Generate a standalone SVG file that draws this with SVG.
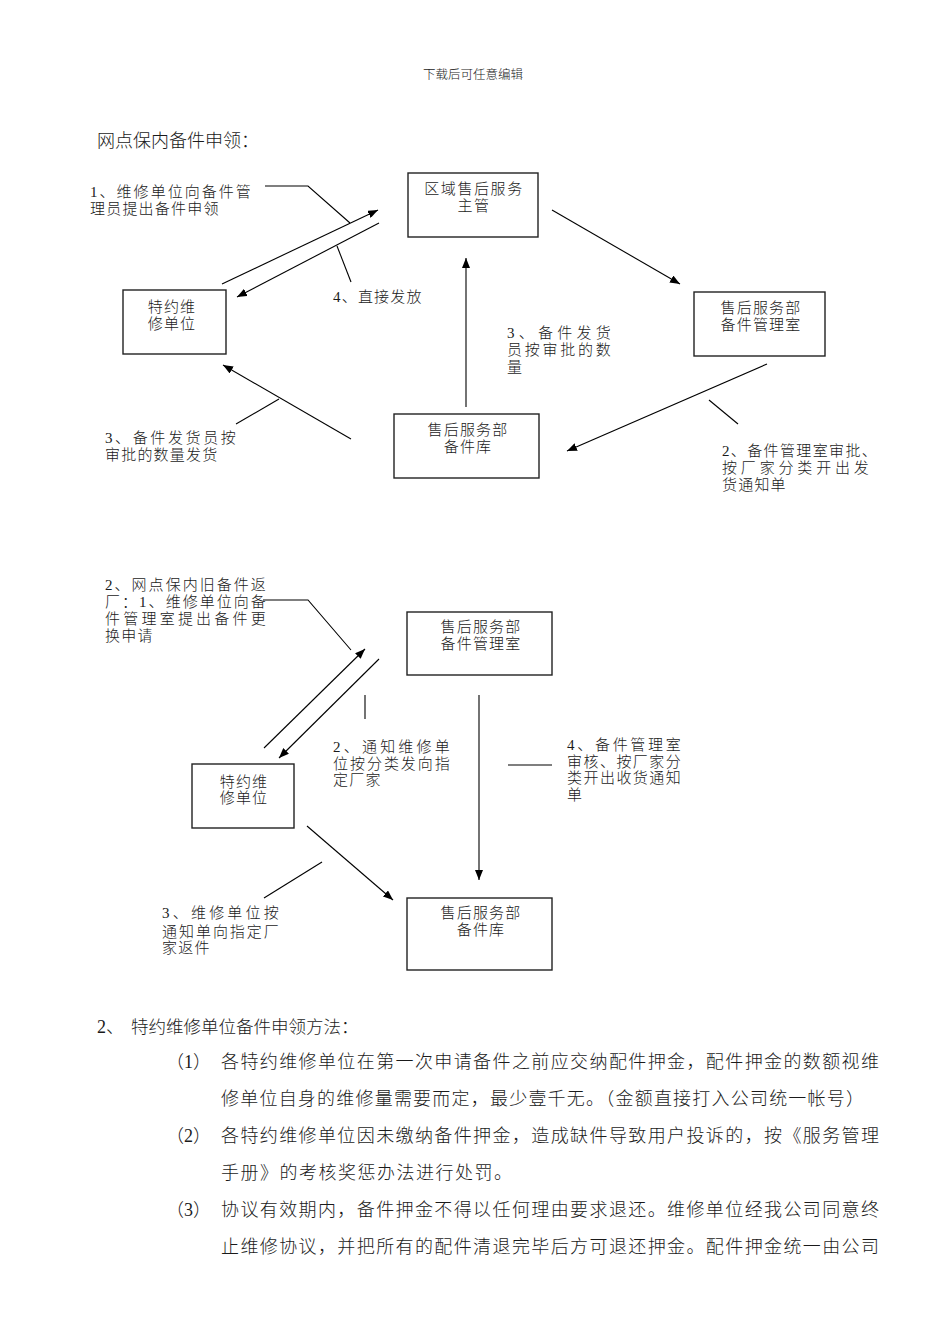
<svg xmlns="http://www.w3.org/2000/svg" width="950" height="1344" viewBox="0 0 950 1344">
<style>
text{font-family:"Liberation Serif","Noto Sans CJK SC",serif;fill:#1a1a1a;font-weight:300}
.d{font-size:15px;letter-spacing:1.2px}
.c{text-anchor:middle}
.box{fill:#fff;stroke:#222;stroke-width:1.4}
.ln{fill:none;stroke:#000;stroke-width:1.1}
.p{font-size:18px}
</style>
<defs>
<marker id="ah" viewBox="0 0 10 8" refX="10" refY="4" markerWidth="10" markerHeight="8" orient="auto" markerUnits="userSpaceOnUse"><path d="M0,0 L10,4 L0,8 z" fill="#000"/></marker>
</defs>
<rect width="950" height="1344" fill="#fff"/>
<text x="473" y="79" font-size="12.5" class="c">下载后可任意编辑</text>
<text x="97" y="147" font-size="18">网点保内备件申领：</text>

<g id="connectors">
<line class="ln" x1="222" y1="284" x2="378" y2="210" marker-end="url(#ah)"/>
<line class="ln" x1="379" y1="223" x2="237" y2="297" marker-end="url(#ah)"/>
<line class="ln" x1="552" y1="210" x2="680" y2="284" marker-end="url(#ah)"/>
<line class="ln" x1="767" y1="364" x2="567" y2="451" marker-end="url(#ah)"/>
<line class="ln" x1="466" y1="407" x2="466" y2="258" marker-end="url(#ah)"/>
<line class="ln" x1="351" y1="439" x2="223" y2="365" marker-end="url(#ah)"/>
<polyline class="ln" points="265,186 308,186 350,223"/>
<line class="ln" x1="337" y1="246" x2="351" y2="282"/>
<line class="ln" x1="709" y1="400" x2="738" y2="424"/>
<line class="ln" x1="236" y1="424" x2="279" y2="399"/>

<line class="ln" x1="264" y1="748" x2="365" y2="649" marker-end="url(#ah)"/>
<line class="ln" x1="379" y1="659" x2="279" y2="758" marker-end="url(#ah)"/>
<line class="ln" x1="479" y1="695" x2="479" y2="880" marker-end="url(#ah)"/>
<line class="ln" x1="307" y1="826" x2="393" y2="900" marker-end="url(#ah)"/>
<polyline class="ln" points="263,600 308,600 351,650"/>
<line class="ln" x1="365" y1="695" x2="365" y2="719"/>
<line class="ln" x1="508" y1="765" x2="552" y2="765"/>
<line class="ln" x1="322" y1="862" x2="264" y2="898"/>
</g>

<g id="n1">
<rect class="box" x="408" y="173" width="130" height="64"/>
<text class="d c" x="474" y="194" style="letter-spacing:1.6px">区域售后服务</text>
<text class="d c" x="474" y="211" style="letter-spacing:1.6px">主管</text>
</g>
<g id="n2">
<rect class="box" x="123" y="290" width="103" height="64"/>
<text class="d c" x="172" y="312">特约维</text>
<text class="d c" x="172" y="329">修单位</text>
</g>
<g id="n3">
<rect class="box" x="694" y="292" width="131" height="64"/>
<text class="d c" x="761" y="313">售后服务部</text>
<text class="d c" x="761" y="330">备件管理室</text>
</g>
<g id="n4">
<rect class="box" x="394" y="414" width="145" height="64"/>
<text class="d c" x="468" y="435">售后服务部</text>
<text class="d c" x="468" y="452">备件库</text>
</g>

<g id="labels1">
<text class="d" x="90" y="197" textLength="162" lengthAdjust="spacing">1、维修单位向备件管</text>
<text class="d" x="90" y="214">理员提出备件申领</text>
<text class="d" x="333" y="302">4、直接发放</text>
<text class="d" x="507" y="338" textLength="105" lengthAdjust="spacing">3、备件发货</text>
<text class="d" x="507" y="355" textLength="105" lengthAdjust="spacing">员按审批的数</text>
<text class="d" x="507" y="372">量</text>
<text class="d" x="722" y="456" textLength="156" lengthAdjust="spacing">2、备件管理室审批、</text>
<text class="d" x="722" y="473" textLength="148" lengthAdjust="spacing">按厂家分类开出发</text>
<text class="d" x="722" y="490">货通知单</text>
<text class="d" x="105" y="443" textLength="132" lengthAdjust="spacing">3、备件发货员按</text>
<text class="d" x="105" y="460">审批的数量发货</text>
</g>

<g id="m1">
<rect class="box" x="407" y="612" width="145" height="63"/>
<text class="d c" x="481" y="632">售后服务部</text>
<text class="d c" x="481" y="649">备件管理室</text>
</g>
<g id="m2">
<rect class="box" x="192" y="764" width="102" height="64"/>
<text class="d c" x="244" y="787">特约维</text>
<text class="d c" x="244" y="803">修单位</text>
</g>
<g id="m3">
<rect class="box" x="407" y="898" width="145" height="72"/>
<text class="d c" x="481" y="918">售后服务部</text>
<text class="d c" x="481" y="935">备件库</text>
</g>

<g id="labels2">
<text class="d" x="105" y="590" textLength="162" lengthAdjust="spacing">2、网点保内旧备件返</text>
<text class="d" x="105" y="607" textLength="162" lengthAdjust="spacing">厂：1、维修单位向备</text>
<text class="d" x="105" y="624" textLength="162" lengthAdjust="spacing">件管理室提出备件更</text>
<text class="d" x="105" y="641">换申请</text>
<text class="d" x="333" y="752" textLength="118" lengthAdjust="spacing">2、通知维修单</text>
<text class="d" x="333" y="769" textLength="118" lengthAdjust="spacing">位按分类发向指</text>
<text class="d" x="333" y="785">定厂家</text>
<text class="d" x="567" y="750" textLength="115" lengthAdjust="spacing">4、备件管理室</text>
<text class="d" x="567" y="767" textLength="115" lengthAdjust="spacing">审核、按厂家分</text>
<text class="d" x="567" y="783" textLength="115" lengthAdjust="spacing">类开出收货通知</text>
<text class="d" x="567" y="800">单</text>
<text class="d" x="162" y="918" textLength="118" lengthAdjust="spacing">3、维修单位按</text>
<text class="d" x="162" y="937" textLength="118" lengthAdjust="spacing">通知单向指定厂</text>
<text class="d" x="162" y="953">家返件</text>
</g>

<g id="paragraph">
<text class="p" x="97" y="1033">2、</text>
<text x="131" y="1033" font-size="17.5">特约维修单位备件申领方法：</text>
<text class="p" x="166" y="1068">（1）</text>
<text class="p" x="221" y="1068" textLength="658" lengthAdjust="spacing">各特约维修单位在第一次申请备件之前应交纳配件押金，配件押金的数额视维</text>
<text class="p" x="221" y="1105" textLength="643" lengthAdjust="spacing">修单位自身的维修量需要而定，最少壹千无。（金额直接打入公司统一帐号）</text>
<text class="p" x="166" y="1142">（2）</text>
<text class="p" x="221" y="1142" textLength="658" lengthAdjust="spacing">各特约维修单位因未缴纳备件押金，造成缺件导致用户投诉的，按《服务管理</text>
<text class="p" x="221" y="1179" letter-spacing="1.5">手册》的考核奖惩办法进行处罚。</text>
<text class="p" x="166" y="1216">（3）</text>
<text class="p" x="221" y="1216" textLength="658" lengthAdjust="spacing">协议有效期内，备件押金不得以任何理由要求退还。维修单位经我公司同意终</text>
<text class="p" x="221" y="1253" textLength="658" lengthAdjust="spacing">止维修协议，并把所有的配件清退完毕后方可退还押金。配件押金统一由公司</text>
</g>
</svg>
